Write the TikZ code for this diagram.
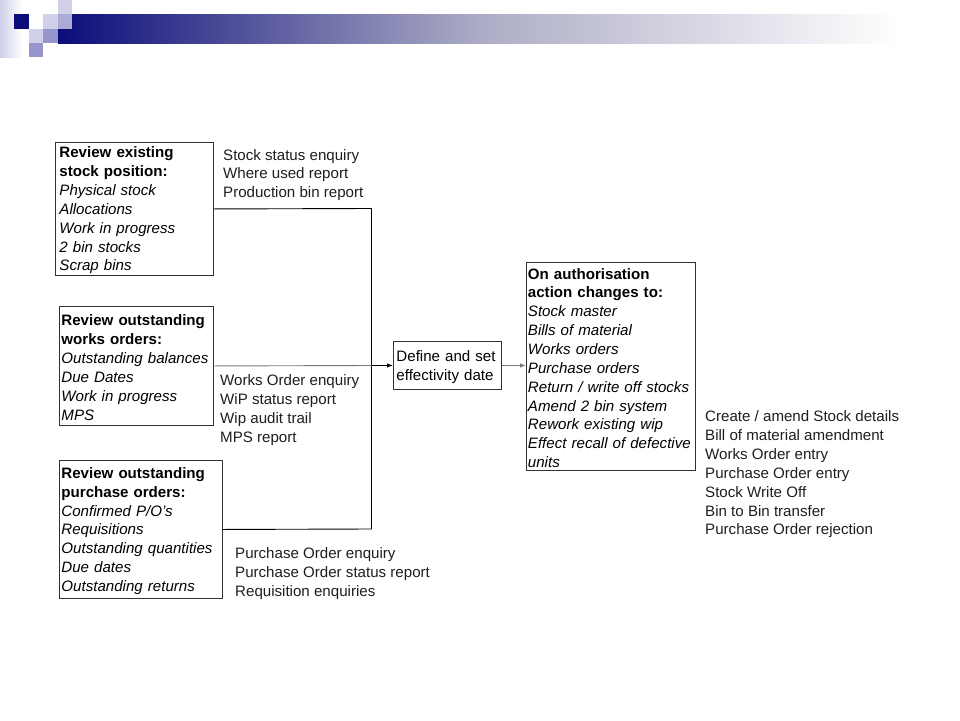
\documentclass[tikz,border=0pt]{standalone}
\usepackage{fontspec}
\setmainfont{Liberation Sans}
\usetikzlibrary{arrows.meta}
\definecolor{navy}{RGB}{12,12,122}
\definecolor{barmid}{RGB}{172,172,198}
\definecolor{sqlight}{RGB}{208,208,234}
\definecolor{sqmed}{RGB}{150,150,204}
\definecolor{boxc}{RGB}{50,50,50}
\definecolor{txt}{RGB}{30,30,30}
\definecolor{conngray}{RGB}{120,120,120}
\newcommand{\fs}{\fontsize{15.1}{18.85}\selectfont}
\newcommand{\topgap}{\rule{0pt}{14pt}}
\begin{document}
\begin{tikzpicture}[x=1pt,y=-1pt,
  box/.style={draw=boxc, line width=0.9pt, rectangle, anchor=north west, align=left,
    inner ysep=0pt, text=black, font=\fs},
  lbl/.style={anchor=west, inner sep=0pt, align=left, text=txt, font=\fs},
  conn/.style={line width=0.9pt, draw=black},
  grayconn/.style={line width=0.9pt, draw=conngray},
  arr/.style={-{Latex[length=6pt,width=4.5pt]}}
]
\useasboundingbox (0,0) rectangle (960,720);
% header decoration
\shade[left color=sqlight, right color=white] (0,0) rectangle (22,57);
\shade[left color=navy, right color=barmid] (58,14) rectangle (480,43);
\shade[left color=barmid, right color=white] (480,14) rectangle (900,43);
\fill[navy] (14,14) rectangle (29,29);
\fill[sqlight] (43,14) rectangle (58,29);
\fill[sqlight] (58,0) rectangle (72,14);
\fill[sqmed!80!white] (58,14) rectangle (72,29);
\fill[sqlight] (29,29) rectangle (43,43);
\fill[sqmed] (43,29) rectangle (58,43);
\fill[sqmed] (29,43) rectangle (43,57);

% boxes
\node[box, inner xsep=4pt, minimum width=158pt, minimum height=133pt, text width=150pt] (b1) at (55,142)
 {\topgap\textbf{Review existing}\\\textbf{stock position:}\\\textit{Physical stock}\\\textit{Allocations}\\\textit{Work in progress}\\\textit{2 bin stocks}\\\textit{Scrap bins}};
\node[box, inner xsep=2pt, minimum width=154pt, minimum height=119pt, text width=150pt] (b2) at (59,306)
 {\topgap\textbf{Review outstanding}\\\textbf{works orders:}\\\textit{Outstanding balances}\\\textit{Due Dates}\\\textit{Work in progress}\\\textit{MPS}};
\node[box, inner xsep=2pt, minimum width=163pt, minimum height=138pt, text width=159pt] (b3) at (59,460)
 {\topgap\textbf{Review outstanding}\\\textbf{purchase orders:}\\\textit{Confirmed P/O's}\\\textit{Requisitions}\\\textit{Outstanding quantities}\\\textit{Due dates}\\\textit{Outstanding returns}};
\node[box, inner xsep=3pt, minimum width=108pt, minimum height=48pt, text width=102pt] (def) at (393,341)
 {\topgap{}Define and set\\effectivity date};
\node[box, inner xsep=1.5pt, minimum width=169pt, minimum height=208pt, text width=166pt] (auth) at (526,262)
 {\topgap\textbf{On authorisation}\\\textbf{action changes to:}\\\textit{Stock master}\\\textit{Bills of material}\\\textit{Works orders}\\\textit{Purchase orders}\\\textit{Return / write off stocks}\\\textit{Amend 2 bin system}\\\textit{Rework existing wip}\\\textit{Effect recall of defective}\\\textit{units}};

% labels
\node[lbl] (l1) at (223,175) {Stock status enquiry\\Where used report\\Production bin report};
\node[lbl] (l2) at (220,410) {Works Order enquiry\\WiP status report\\Wip audit trail\\MPS report};
\node[lbl] (l3) at (235,573.5) {Purchase Order enquiry\\Purchase Order status report\\Requisition enquiries};
\node[lbl] (l4) at (705,474.5) {Create / amend Stock details\\Bill of material amendment\\Works Order entry\\Purchase Order entry\\Stock Write Off\\Bin to Bin transfer\\Purchase Order rejection};

% connectors
\coordinate (jt) at (371.5,208.5);
\coordinate (jb) at (371.5,529);
\coordinate (jm) at (371.5,365.5);
\draw[conn] (b1.east) -- (jt) -- (jb) -- (b3.east);
\draw[grayconn] (b2.east) -- (jm);
\draw[conn, arr] (jm) -- (def.west);
\draw[grayconn, arr] (def.east) -- (auth.west |- def.east);
\end{tikzpicture}
\end{document}
